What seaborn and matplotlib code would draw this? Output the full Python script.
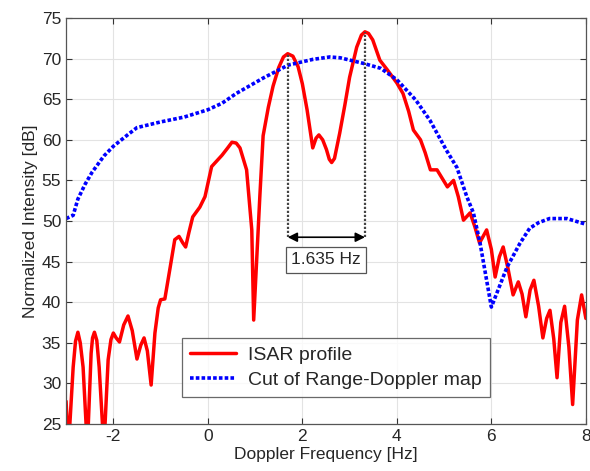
import matplotlib
matplotlib.use("Agg")
import matplotlib.pyplot as plt
import seaborn as sns
import pandas as pd

# ISAR profile (red)
isar_x = [-3.0, -2.95, -2.85, -2.8, -2.75, -2.7, -2.64, -2.55, -2.47, -2.44, -2.4, -2.35, -2.3, -2.2,
          -2.11, -2.05, -2.0, -1.94, -1.87, -1.78, -1.69, -1.6, -1.5, -1.42, -1.35, -1.28, -1.2,
          -1.12, -1.05, -1.0, -0.91, -0.8, -0.7, -0.61, -0.53, -0.47,
          -0.4, -0.32, -0.17, -0.06, 0.08, 0.3, 0.42, 0.51, 0.6, 0.68, 0.82, 0.93, 0.97, 1.03, 1.1,
          1.17, 1.28, 1.38, 1.5, 1.6, 1.69, 1.8, 1.91, 2.0, 2.1, 2.22, 2.29, 2.35, 2.43, 2.51,
          2.57, 2.62, 2.68, 2.79, 2.9, 3.0, 3.15, 3.25, 3.325, 3.4, 3.49, 3.64, 3.8, 4.0,
          4.13, 4.25, 4.35, 4.5, 4.6, 4.71, 4.85, 5.07, 5.2, 5.3, 5.41, 5.55, 5.65, 5.75,
          5.9, 6.0, 6.08, 6.17, 6.25, 6.35, 6.46, 6.57, 6.65, 6.73, 6.82, 6.9, 7.0, 7.09,
          7.17, 7.24, 7.32, 7.39, 7.47, 7.55, 7.64, 7.72, 7.82, 7.91, 8.0]
isar_y = [27.8, 22.0, 32.0, 35.2, 36.3, 35.0, 32.0, 22.0, 33.7, 35.6, 36.3, 35.3, 32.0, 22.0,
          32.9, 35.4, 36.2, 35.6, 35.1, 37.2, 38.3, 36.5, 33.0, 34.7, 35.6, 34.0, 29.8,
          36.2, 39.3, 40.3, 40.4, 44.2, 47.7, 48.1, 47.3, 46.8,
          48.6, 50.5, 51.7, 53.0, 56.7, 58.1, 59.0, 59.7, 59.6, 59.0, 56.3, 48.9, 37.8, 44.8, 53.0,
          60.5, 64.0, 66.6, 68.9, 70.2, 70.6, 70.3, 69.0, 66.9, 63.7, 59.0, 60.2, 60.6, 60.0, 58.8,
          57.6, 57.2, 57.7, 60.8, 64.3, 67.7, 71.4, 72.9, 73.3, 73.1, 72.3, 69.8, 68.6, 67.0,
          65.7, 63.5, 61.2, 60.0, 58.4, 56.3, 56.3, 54.2, 55.0, 53.0, 50.1, 51.0, 49.3, 47.3,
          48.9, 46.5, 43.1, 45.6, 46.8, 44.2, 40.9, 42.5, 41.0, 38.2, 41.5, 42.7, 39.5, 35.6,
          38.0, 39.0, 35.5, 30.7, 37.5, 39.5, 34.5, 27.4, 37.8, 40.9, 38.0]

# Cut of Range-Doppler map (blue)
rd_x = [-3.0, -2.85, -2.75, -2.6, -2.45, -2.2, -2.0, -1.7, -1.5, -1.0, -0.5, 0.0, 0.3, 0.6,
        1.17, 1.7, 2.22, 2.58, 2.8, 3.3, 3.66, 4.0, 4.4, 4.7, 5.05, 5.27, 5.48, 5.62,
        5.76, 6.0, 6.33, 6.6, 6.81, 7.0, 7.23, 7.6, 8.0]
rd_y = [50.3, 50.7, 52.7, 54.5, 56.0, 58.0, 59.2, 60.6, 61.5, 62.2, 62.8, 63.7, 64.5, 65.7,
        67.6, 69.2, 69.9, 70.2, 70.1, 69.4, 68.8, 67.4, 64.9, 62.4, 58.7, 56.6, 53.0, 51.0,
        47.3, 39.4, 44.3, 47.2, 49.1, 49.8, 50.3, 50.3, 49.6]

peak1, peak2 = 1.69, 3.325
peak1_y, peak2_y = 70.6, 73.3
arrow_y = 48.0
sep_label = "1.635 Hz"

xticks = [-2, 0, 2, 4, 6, 8]
yticks = [25, 30, 35, 40, 45, 50, 55, 60, 65, 70, 75]

sns.set_style("ticks")
plt.rcParams['font.family'] = ['Liberation Sans', 'DejaVu Sans']
plt.rcParams['axes.unicode_minus'] = False

fig = plt.figure(figsize=(5.9, 4.71), dpi=100)
ax = fig.add_axes([0.112, 0.0998, 0.881, 0.862])

df_isar = pd.DataFrame({"x": isar_x, "y": isar_y})
df_rd = pd.DataFrame({"x": rd_x, "y": rd_y})
sns.lineplot(data=df_isar, x="x", y="y", ax=ax, color="red", lw=2.5,
             label="ISAR profile", sort=False, solid_joinstyle="round",
             solid_capstyle="round")
sns.lineplot(data=df_rd, x="x", y="y", ax=ax, color="blue", lw=2.6,
             linestyle=(0, (1, 0.6)), label="Cut of Range-Doppler map", sort=False)

ax.set_xlim(-3, 8)
ax.set_ylim(25, 75)
ax.set_xticks(xticks)
ax.set_yticks(yticks)
ax.grid(True, color="#e3e3e3", lw=0.8)
ax.set_axisbelow(True)
ax.tick_params(direction="in", top=True, right=True, labelsize=12.5, length=4,
               color="#333333")
for s in ax.spines.values():
    s.set_color("#555555")
    s.set_linewidth(0.9)

ax.set_xlabel("Doppler Frequency [Hz]", fontsize=12.5, labelpad=2)
ax.set_ylabel("Normalized Intensity [dB]", fontsize=12.5, labelpad=3)

# separation markers
ax.plot([peak1, peak1], [arrow_y, peak1_y], color="#444444", lw=1.6, linestyle=(0, (1, 0.8)))
ax.plot([peak2, peak2], [arrow_y, peak2_y], color="#444444", lw=1.6, linestyle=(0, (1, 0.8)))
ax.annotate("", xy=(peak1, arrow_y), xytext=(peak2, arrow_y),
            arrowprops=dict(arrowstyle="<|-|>", color="black", lw=1.2,
                            mutation_scale=14, shrinkA=0, shrinkB=0))
ax.text((peak1 + peak2) / 2, 45.2, sep_label, ha="center", va="center", fontsize=12.5,
        bbox=dict(boxstyle="square,pad=0.3", fc="white", ec="#555555", lw=0.9))

leg = ax.legend(loc="lower left", bbox_to_anchor=(0.223, 0.067), fontsize=14,
                frameon=True, fancybox=False, edgecolor="#444444", borderaxespad=0,
                handlelength=2.4, labelspacing=0.4, borderpad=0.4, handletextpad=0.6)
leg.get_frame().set_linewidth(0.9)

fig.savefig("out.png", dpi=100)
